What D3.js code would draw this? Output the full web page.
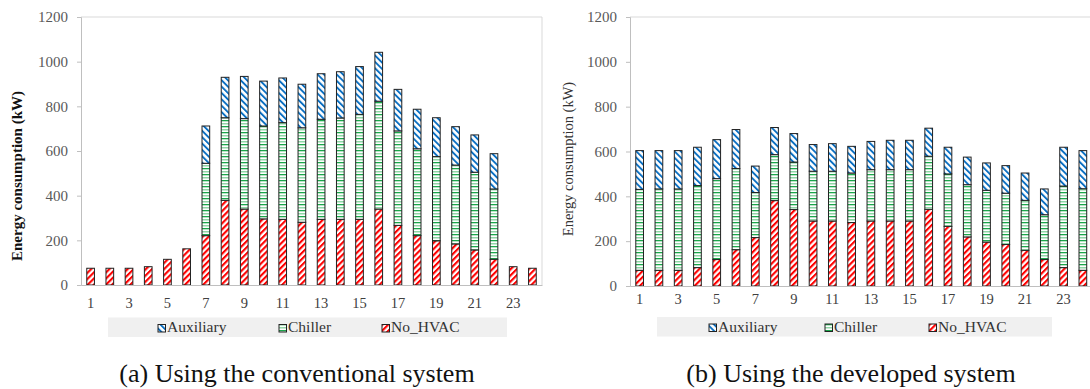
<!DOCTYPE html>
<html><head><meta charset="utf-8">
<script src="https://cdn.jsdelivr.net/npm/d3@7"></script>
<style>body{margin:0;background:#fff}svg{display:block}</style>
</head><body>
<svg id="c" width="1090" height="389"></svg>
<script>
const hours = d3.range(1, 25);
const seriesNames = ["No_HVAC", "Chiller", "Auxiliary"];
const legendNames = ["Auxiliary", "Chiller", "No_HVAC"];
const yTicks = [0, 200, 400, 600, 800, 1000, 1200];
const xTicks = [1, 3, 5, 7, 9, 11, 13, 15, 17, 19, 21, 23];

// (a) conventional system
const convNoHVAC = [75,75,75,82,115,162,221,379,340,296,294,281,294,294,294,340,267,221,198,184,157,115,82,75];
const convChiller = [0,0,0,0,0,0,324,370,405,416,433,423,448,454,470,483,423,389,377,353,348,315,0,0];
const convAux = [0,0,0,0,0,0,167,181,189,201,200,195,204,207,214,219,186,177,174,172,167,158,0,0];
// (b) developed system
const devNoHVAC = [70,70,70,82,118,162,216,381,341,290,290,283,290,290,290,342,266,219,196,185,159,118,82,70];
const devChiller = [361,363,363,366,361,362,201,205,212,222,222,221,229,229,229,237,234,233,231,229,223,200,364,364];
const devAux = [173,171,171,171,174,174,118,121,127,119,123,119,126,131,131,125,119,123,122,123,122,115,173,170];

const captionA = "(a) Using the conventional system";
const captionB = "(b) Using the developed system";
const yTitle = "Energy consumption (kW)";

const svg = d3.select("#c");
const defs = svg.append("defs");
function stripe(id, color, angle, w, lw) {
  const p = defs.append("pattern").attr("id", id).attr("patternUnits", "userSpaceOnUse")
    .attr("width", w).attr("height", w).attr("patternTransform", `rotate(${angle})`);
  p.append("rect").attr("width", w).attr("height", w).attr("fill", "#fff");
  p.append("rect").attr("x", 0).attr("y", 0).attr("width", lw).attr("height", w).attr("fill", color);
}
stripe("pNo", "#ff0000", 45, 4.3, 2.1);
stripe("pAux", "#0a6fc2", -45, 4.5, 1.9);
{
  const p = defs.append("pattern").attr("id", "pCh").attr("patternUnits", "userSpaceOnUse")
    .attr("width", 6).attr("height", 6);
  p.append("rect").attr("width", 6).attr("height", 6).attr("fill", "#fff");
  p.append("rect").attr("y", 0).attr("width", 6).attr("height", 1.3).attr("fill", "#1aa64a");
  p.append("rect").attr("y", 3).attr("width", 6).attr("height", 1.5).attr("fill", "#8fd6a6");
}
const fills = {No_HVAC: "url(#pNo)", Chiller: "url(#pCh)", Auxiliary: "url(#pAux)"};
const serif = "'Liberation Serif','Times New Roman',serif";

function panel(cfg) {
  const rows = hours.map((h, i) => ({hour: h, No_HVAC: cfg.no[i], Chiller: cfg.ch[i], Auxiliary: cfg.aux[i]}));
  const stack = d3.stack().keys(seriesNames)(rows);
  const x = d3.scaleBand().domain(hours).range([cfg.x0, cfg.x1]).paddingInner(0.6).paddingOuter(0.3);
  const y = d3.scaleLinear().domain([0, 1200]).range([cfg.yb, cfg.yt]);
  const g = svg.append("g");

  g.append("line").attr("x1", cfg.x0).attr("x2", cfg.x1).attr("y1", y(1200)).attr("y2", y(1200))
    .attr("stroke", "#d9d9d9").attr("stroke-width", 1);
  if (cfg.rightBorder) g.append("line").attr("x1", cfg.x1).attr("x2", cfg.x1).attr("y1", y(1200)).attr("y2", y(0))
    .attr("stroke", "#d9d9d9").attr("stroke-width", 1);

  stack.forEach(s => {
    g.append("g").selectAll("rect").data(s.filter(d => d[1] - d[0] > 0)).join("rect")
      .attr("x", d => x(d.data.hour)).attr("width", x.bandwidth())
      .attr("y", d => y(d[1])).attr("height", d => y(d[0]) - y(d[1]))
      .attr("fill", fills[s.key]).attr("stroke", "#222").attr("stroke-width", 1);
  });

  const ya = g.append("g").attr("transform", `translate(${cfg.x0},0)`)
    .call(d3.axisLeft(y).tickValues(yTicks).tickSize(4).tickPadding(9).tickFormat(d3.format("d")));
  ya.select(".domain").attr("stroke", "#bfbfbf");
  ya.selectAll(".tick line").attr("stroke", "#bfbfbf");
  ya.selectAll("text").attr("font-family", serif).attr("font-size", 15).attr("fill", "#595959");

  const xa = g.append("g").attr("transform", `translate(0,${y(0)})`)
    .call(d3.axisBottom(x).tickValues(xTicks).tickSize(0).tickPadding(cfg.xPad));
  xa.select(".domain").attr("stroke", "#bfbfbf");
  xa.selectAll("text").attr("font-family", serif).attr("font-size", 14.5).attr("fill", "#404040");

  g.append("text").attr("transform", `translate(${cfg.titleX},${cfg.titleY}) rotate(-90)`)
    .attr("text-anchor", "middle").attr("dominant-baseline", "middle")
    .attr("font-family", serif).attr("font-size", cfg.titleSize).attr("font-weight", cfg.titleWeight)
    .attr("fill", cfg.titleColor).text(yTitle);

  g.append("rect").attr("x", cfg.lx0).attr("y", cfg.ly0).attr("width", cfg.lx1 - cfg.lx0).attr("height", 19.5)
    .attr("fill", "#f0f0f0");
  legendNames.forEach((n, i) => {
    const sx = cfg.lItems[i];
    g.append("rect").attr("x", sx).attr("y", cfg.ly0 + 7).attr("width", 7.5).attr("height", 7.5)
      .attr("fill", fills[n]).attr("stroke", "#222").attr("stroke-width", 1);
    g.append("text").attr("x", sx + 9).attr("y", cfg.ly0 + 14.5).attr("font-family", serif)
      .attr("font-size", 15.5).attr("fill", "#333").text(n);
  });

  g.append("text").attr("x", cfg.capX).attr("y", 381.5).attr("text-anchor", "middle")
    .attr("font-family", serif).attr("font-size", 26).attr("fill", "#111").text(cfg.caption);
}

panel({no: convNoHVAC, ch: convChiller, aux: convAux, x0: 81, x1: 542, yb: 285, yt: 17, xPad: 13,
  rightBorder: true, titleX: 19, titleY: 176, titleSize: 15, titleWeight: "bold", titleColor: "#111",
  lx0: 108, lx1: 507, ly0: 317.5, lItems: [158, 279, 382], capX: 297, caption: captionA});
panel({no: devNoHVAC, ch: devChiller, aux: devAux, x0: 630, x1: 1092.5, yb: 286, yt: 17, xPad: 8,
  rightBorder: false, titleX: 570, titleY: 159, titleSize: 14.5, titleWeight: "normal", titleColor: "#333",
  lx0: 657, lx1: 1052, ly0: 317, lItems: [709, 825, 929], capX: 851, caption: captionB});
</script>
</body></html>
